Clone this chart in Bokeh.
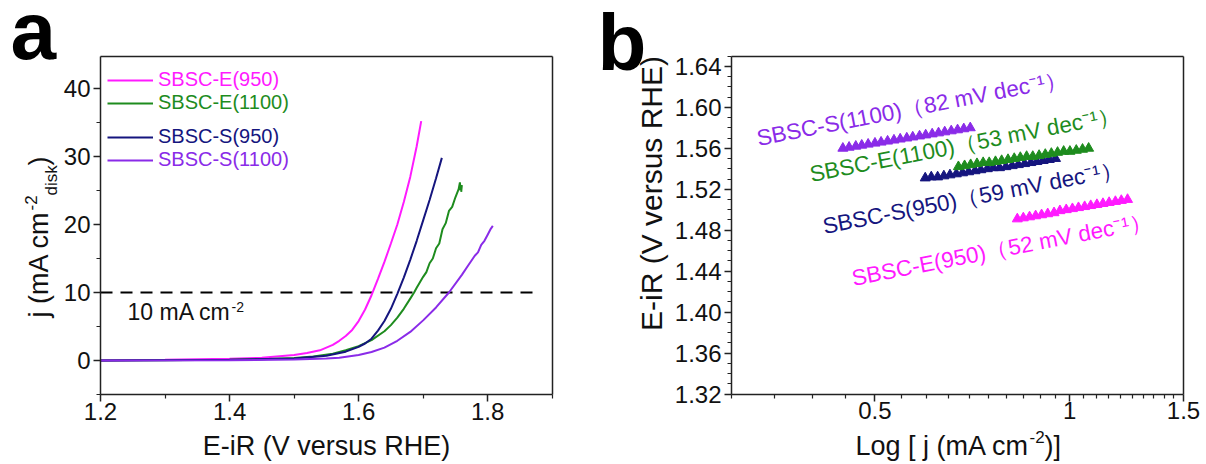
import math
from bokeh.plotting import figure
from bokeh.layouts import row
from bokeh.models import (FixedTicker, Label, Legend, LegendItem, Range1d,
                          CustomJSTickFormatter, LinearAxis, LogAxis)
from bokeh.embed import file_html
from bokeh.resources import INLINE

FONT = "Liberation Sans"

# ---------------- data: panel a (LSV curves) ----------------
names = ["SBSC-E(950)", "SBSC-E(1100)", "SBSC-S(950)", "SBSC-S(1100)"]
colors = ["#FF1AFF", "#1E8C1E", "#15157E", "#8A2BE8"]

e950_x = [1.20, 1.30, 1.40, 1.45, 1.50, 1.52, 1.54, 1.56, 1.57, 1.58, 1.59, 1.60, 1.61,
          1.62, 1.63, 1.64, 1.65, 1.66, 1.67, 1.68, 1.69, 1.697]
e950_y = [0.0, 0.1, 0.25, 0.4, 0.8, 1.1, 1.5, 2.3, 2.9, 3.6, 4.5, 5.8, 7.5,
          9.6, 12.0, 14.5, 17.2, 20.0, 23.3, 27.0, 31.5, 35.2]

e1100_x = [1.20, 1.30, 1.40, 1.45, 1.50, 1.53, 1.56, 1.58, 1.60, 1.62, 1.64, 1.65,
           1.66, 1.67, 1.68, 1.686, 1.69, 1.70, 1.705, 1.71, 1.715, 1.72, 1.725,
           1.73, 1.735, 1.74, 1.745, 1.75, 1.755, 1.757, 1.758, 1.760, 1.759]
e1100_y = [0.0, 0.05, 0.12, 0.2, 0.35, 0.6, 1.0, 1.5, 2.1, 3.0, 4.3, 5.2,
           6.3, 7.6, 9.1, 10.0, 10.7, 12.3, 13.0, 14.3, 15.0, 16.5, 17.2,
           19.3, 20.2, 22.0, 22.6, 24.0, 25.2, 26.2, 25.0, 25.8, 24.8]

s950_x = [1.20, 1.40, 1.50, 1.55, 1.58, 1.60, 1.61, 1.62, 1.63, 1.64, 1.65, 1.66, 1.67,
          1.68, 1.69, 1.70, 1.71, 1.72, 1.729]
s950_y = [0.0, 0.1, 0.3, 0.7, 1.3, 2.0, 2.5, 3.2, 4.4, 5.8, 7.6, 9.8, 12.2,
          14.8, 17.6, 20.6, 23.6, 26.8, 29.8]

s1100_x = [1.20, 1.40, 1.50, 1.55, 1.57, 1.60, 1.62, 1.64, 1.66, 1.68, 1.70, 1.72,
           1.74, 1.76, 1.77, 1.78, 1.785, 1.79, 1.795, 1.80, 1.805, 1.808]
s1100_y = [0.0, 0.05, 0.15, 0.3, 0.42, 0.8, 1.25, 1.9, 2.9, 4.2, 5.9, 7.8,
           10.0, 12.6, 14.0, 15.4, 15.9, 17.0, 17.6, 18.5, 19.4, 19.8]

ref_level = [10, 10]
ref_x = [1.20, 1.87]

a_xlim = (1.2, 1.9)
a_ylim = (-5, 44.75)
a_xticks = [1.2, 1.4, 1.6, 1.8]
a_xminor = [1.3, 1.5, 1.7, 1.9]
a_yticks = [0, 10, 20, 30, 40]
a_yminor = [-5, 5, 15, 25, 35]

# ---------------- data: panel b (Tafel) ----------------
tafel_s1100_j = [0.446, 0.456, 0.467, 0.477, 0.488, 0.500, 0.511, 0.523, 0.535, 0.547,
                 0.560, 0.572, 0.586, 0.599, 0.613, 0.627, 0.641, 0.656, 0.671, 0.686, 0.702]
tafel_s1100_e = [1.560, 1.561, 1.562, 1.563, 1.564, 1.565, 1.566, 1.567, 1.568, 1.569,
                 1.570, 1.571, 1.572, 1.573, 1.574, 1.575, 1.576, 1.577, 1.578, 1.579, 1.580]

tafel_e1100_j = [0.673, 0.688, 0.703, 0.719, 0.735, 0.751, 0.768, 0.785, 0.803, 0.821, 0.839,
                 0.858, 0.877, 0.897, 0.917, 0.937, 0.958, 0.979, 1.001, 1.024, 1.047, 1.070]
tafel_e1100_e = [1.542, 1.543, 1.544, 1.545, 1.546, 1.546, 1.547, 1.548, 1.549, 1.550, 1.551,
                 1.552, 1.552, 1.553, 1.554, 1.555, 1.556, 1.557, 1.557, 1.558, 1.559, 1.560]

tafel_s950_j = [0.598, 0.611, 0.625, 0.639, 0.653, 0.668, 0.683, 0.698, 0.714, 0.729, 0.746,
                0.762, 0.779, 0.797, 0.815, 0.833, 0.852, 0.871, 0.890, 0.910, 0.930, 0.951]
tafel_s950_e = [1.531, 1.532, 1.532, 1.533, 1.534, 1.535, 1.536, 1.537, 1.538, 1.539, 1.540,
                1.541, 1.541, 1.542, 1.543, 1.544, 1.545, 1.546, 1.547, 1.548, 1.549, 1.550]

tafel_e950_j = [0.830, 0.848, 0.867, 0.886, 0.905, 0.925, 0.946, 0.966, 0.988, 1.010,
                1.032, 1.055, 1.078, 1.102, 1.126, 1.151, 1.177, 1.202, 1.229]
tafel_e950_e = [1.491, 1.492, 1.493, 1.494, 1.495, 1.496, 1.497, 1.499, 1.500, 1.501,
                1.502, 1.503, 1.504, 1.505, 1.506, 1.507, 1.508, 1.509, 1.510]

tafel_labels = ["SBSC-S(1100)\uff0882 mV dec\u207b\u00b9\uff09",
                "SBSC-E(1100)\uff0853 mV dec\u207b\u00b9\uff09",
                "SBSC-S(950)\uff0859 mV dec\u207b\u00b9\uff09",
                "SBSC-E(950)\uff0852 mV dec\u207b\u00b9\uff09"]

b_xlim = (0.3, 1.5)
b_ylim = (1.32, 1.65)
b_xticks = [0.5, 1.0, 1.5]
b_xminor = [0.3, 0.35, 0.4, 0.45, 0.55, 0.6, 0.65, 0.7, 0.75, 0.8, 0.85, 0.9, 0.95,
            1.05, 1.1, 1.15, 1.2, 1.25, 1.3, 1.35, 1.4, 1.45]
b_yticks = [1.32, 1.36, 1.40, 1.44, 1.48, 1.52, 1.56, 1.60, 1.64]
b_yminor = [1.33, 1.34, 1.35, 1.37, 1.38, 1.39, 1.41, 1.42, 1.43, 1.45, 1.46, 1.47,
            1.49, 1.50, 1.51, 1.53, 1.54, 1.55, 1.57, 1.58, 1.59, 1.61, 1.62, 1.63, 1.65]

# ---------------- layout (canvas px) ----------------
H = 464
W1, W2 = 598, 608
A_BOX = (100, 551.7, 55.7, 394)      # left, right, top, bottom
B_BOX = (133, 585, 55.7, 393.5)
BASELINE_FIX = 0.36                   # em shift so given points are alphabetic baselines


def extend(v0, v1, p0, p1, total):
    s = (v1 - v0) / (p1 - p0)
    return v0 - p0 * s, v1 + (total - p1) * s


def ranges(box, xlim, ylim, width, logx=False):
    l, r, t, b = box
    if logx:
        x0, x1 = extend(math.log10(xlim[0]), math.log10(xlim[1]), l, r, width)
        xr = Range1d(10 ** x0, 10 ** x1)
    else:
        xr = Range1d(*extend(xlim[0], xlim[1], l, r, width))
    yr = Range1d(*extend(ylim[0], ylim[1], H - b, H - t, H))
    return xr, yr


def style_axis(ax, ticks=True):
    ax.axis_line_width = 1.5
    ax.axis_line_color = "#222222"
    ax.major_tick_in = 0
    ax.minor_tick_in = 0
    ax.major_tick_out = 7 if ticks else 0
    ax.minor_tick_out = 4 if ticks else 0
    ax.major_tick_line_width = 1.5
    ax.minor_tick_line_width = 1.2
    ax.major_tick_line_color = "#222222"
    ax.minor_tick_line_color = "#222222"
    ax.major_label_text_font = FONT
    ax.major_label_text_font_size = "24px"
    ax.major_label_text_color = "#111111"


def frame_box(p, xlim, ylim, xticks, xminor, yticks, yminor, logx=False):
    xa = p.xaxis[0]
    ya = p.yaxis[0]
    xa.fixed_location = ylim[0]
    ya.fixed_location = xlim[0]
    xa.bounds = xlim
    ya.bounds = ylim
    xa.ticker = FixedTicker(ticks=xticks, minor_ticks=xminor)
    ya.ticker = FixedTicker(ticks=yticks, minor_ticks=yminor)
    style_axis(xa)
    style_axis(ya)
    xa.major_label_standoff = 1
    ya.major_label_standoff = 3
    top = (LogAxis if logx else LinearAxis)(fixed_location=ylim[1], bounds=xlim,
                                             ticker=FixedTicker(ticks=[]))
    right = LinearAxis(fixed_location=xlim[1], bounds=ylim, ticker=FixedTicker(ticks=[]))
    for ax in (top, right):
        style_axis(ax, ticks=False)
    p.add_layout(top, "above")
    p.add_layout(right, "right")
    p.xgrid.grid_line_color = None
    p.ygrid.grid_line_color = None
    p.outline_line_color = None


def lab(p, px, py, text, size, color="#111111", angle=0.0,
        align="left", bold=False):
    d = BASELINE_FIX * size
    px2 = px - d * math.sin(angle)
    py2 = py - d * math.cos(angle)
    p.add_layout(Label(x=px2, y=H - py2, x_units="screen", y_units="screen",
                       text=text, text_font=FONT, text_font_size=f"{size}px",
                       text_color=color, angle=angle, text_align=align,
                       text_baseline="alphabetic",
                       text_font_style="bold" if bold else "normal"))


# ---------------- panel a ----------------
xr, yr = ranges(A_BOX, a_xlim, a_ylim, W1)
pa = figure(width=W1, height=H, output_backend="svg", toolbar_location=None,
            x_range=xr, y_range=yr, min_border=0)
frame_box(pa, a_xlim, a_ylim, a_xticks, a_xminor, a_yticks, a_yminor)
pa.xaxis[0].formatter = CustomJSTickFormatter(code="return tick.toFixed(1);")
pa.yaxis[0].formatter = CustomJSTickFormatter(code="return tick.toFixed(0);")

pa.line(ref_x, ref_level, line_color="black", line_width=2.2, line_dash="12 8")
curves = [(e950_x, e950_y), (e1100_x, e1100_y), (s950_x, s950_y), (s1100_x, s1100_y)]
rend = []
for (xs, ys), c in zip(curves, colors):
    rend.append(pa.line(xs, ys, line_color=c, line_width=2))

legend_centres = [80, 103, 137, 160]
for r, n, c, cy in zip(rend, names, colors, legend_centres):
    leg = Legend(items=[LegendItem(label=n, renderers=[r])],
                 location=(107, H - (cy + 11)),
                 label_text_font=FONT, label_text_font_size="20px",
                 label_text_color=c, glyph_width=46, glyph_height=22,
                 label_height=22, label_standoff=5, padding=0, margin=0,
                 spacing=0, border_line_color=None, background_fill_alpha=0)
    pa.add_layout(leg)

lab(pa, 127, 320, "10 mA cm", 23)
lab(pa, 231, 312, "-2", 14)
lab(pa, 326, 455, "E-iR (V versus RHE)", 27, align="center")
lab(pa, 48, 317, "j (mA cm", 27, angle=math.pi / 2)
lab(pa, 37, 210, "-2", 17, angle=math.pi / 2)
lab(pa, 57, 195, "disk", 17, angle=math.pi / 2)
lab(pa, 48, 165, ")", 27, angle=math.pi / 2)
lab(pa, 10, 60, "a", 82, color="black", bold=True)

# ---------------- panel b ----------------
xr, yr = ranges(B_BOX, b_xlim, b_ylim, W2, logx=True)
pb = figure(width=W2, height=H, output_backend="svg", toolbar_location=None,
            x_axis_type="log", x_range=xr, y_range=yr, min_border=0)
frame_box(pb, b_xlim, b_ylim, b_xticks, b_xminor, b_yticks, b_yminor, logx=True)
pb.xaxis[0].formatter = CustomJSTickFormatter(code="return tick.toString();")
pb.yaxis[0].formatter = CustomJSTickFormatter(code="return tick.toFixed(2);")

tafel = [(tafel_s1100_j, tafel_s1100_e, colors[3]),
         (tafel_s950_j, tafel_s950_e, colors[2]),
         (tafel_e1100_j, tafel_e1100_e, colors[1]),
         (tafel_e950_j, tafel_e950_e, colors[0])]
for xs, ys, c in tafel:
    pb.scatter(xs, ys, marker="triangle", size=10, fill_color=c, line_color=c)

ang = math.radians(11)
tl_pos = [(160, 146, colors[3]), (213, 182, colors[1]), (226, 234, colors[2]), (255, 286, colors[0])]
for t, (px, py, c) in zip(tafel_labels, tl_pos):
    lab(pb, px, py, t, 22.5, color=c, angle=ang)

lab(pb, 257, 455, "Log [ j (mA cm", 27)
lab(pb, 431, 443, "-2", 17)
lab(pb, 446, 455, ")]", 27)
lab(pb, 64, 193, "E-iR (V versus RHE)", 30, angle=math.pi / 2, align="center")
lab(pb, -1, 71, "b", 80, color="black", bold=True)

layout = row(pa, pb)
open("out.html", "w").write(file_html(layout, INLINE))
